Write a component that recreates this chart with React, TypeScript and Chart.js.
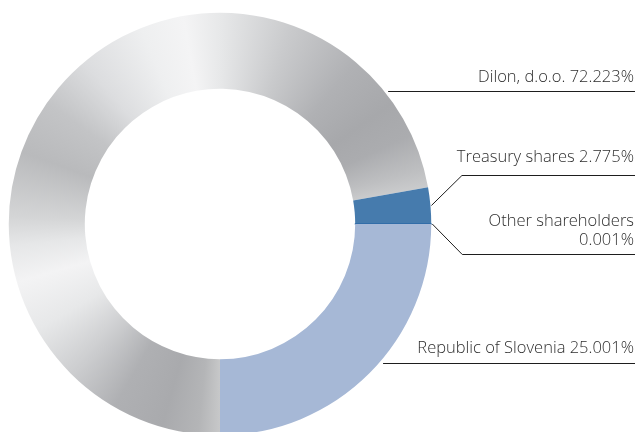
import { useEffect, useRef } from "react";
import { Chart, registerables } from "chart.js";

Chart.register(...registerables);

// ---- data ----
const categories = ["Dilon, d.o.o.", "Treasury shares", "Other shareholders", "Republic of Slovenia"];
const shares = [72.223, 2.775, 0.001, 25.001];
const labelTexts = [
  ["Dilon, d.o.o. 72.223%"],
  ["Treasury shares 2.775%"],
  ["Other shareholders", "0.001%"],
  ["Republic of Slovenia 25.001%"],
];

// ---- styles ----
const solidColors = ["#c0c1c3", "#467bad", "#2d6aa6", "#a6b8d6"];
// metallic conic gradient for Dilon: [degrees clockwise from 12 o'clock, colour]
const dilonStops: [number, string][] = [
  [0, "#e7e8e9"],
  [20, "#c9cacc"],
  [40, "#b0b1b4"],
  [55, "#a7a8ab"],
  [65, "#abacaf"],
  [75, "#bebfc1"],
  [82, "#cfd0d1"],
  [180, "#c7c8c9"],
  [186, "#b4b5b7"],
  [196, "#a9aaad"],
  [210, "#afb0b3"],
  [225, "#cdced0"],
  [240, "#e7e8e9"],
  [254, "#f3f3f4"],
  [264, "#e6e7e8"],
  [272, "#d4d5d6"],
  [290, "#b9babc"],
  [305, "#c3c4c6"],
  [320, "#dcdddf"],
  [338, "#eeeff0"],
  [350, "#f4f4f5"],
  [360, "#e7e8e9"],
];

const labelLayout = [
  { lineY: 91, mode: "h", gap: 14 },
  { lineY: 175, mode: "elbow", gap: 18 },
  { lineY: 254, mode: "elbow", gap: 14 },
  { lineY: 363, mode: "h", gap: 15 },
];

const labelPlugin = {
  id: "leaderLabels",
  afterDraw(chart: any) {
    const meta = chart.getDatasetMeta(0);
    const c: CanvasRenderingContext2D = chart.ctx;
    const lineEnd = 635;
    const textRight = 634;
    const lineHeight = 19;
    c.save();
    c.strokeStyle = "#1e1e1e";
    c.lineWidth = 1;
    c.fillStyle = "#2e2e2e";
    c.font = '300 16.5px "Open Sans"';
    c.textAlign = "right";
    c.textBaseline = "middle";
    meta.data.forEach((arc: any, i: number) => {
      const { x, y, outerRadius, startAngle, endAngle } = arc.getProps(
        ["x", "y", "outerRadius", "startAngle", "endAngle"],
        true
      );
      const L = labelLayout[i];
      const ly = L.lineY + 0.5;
      c.beginPath();
      if (L.mode === "h") {
        const dy = L.lineY - y;
        const sx = x + Math.sqrt(Math.max(0, outerRadius * outerRadius - dy * dy)) + 4;
        c.moveTo(sx, ly);
        c.lineTo(lineEnd, ly);
      } else {
        const mid = (startAngle + endAngle) / 2;
        const ax = x + Math.cos(mid) * (outerRadius + 1);
        const ay = y + Math.sin(mid) * (outerRadius + 1);
        const ex = ax + Math.abs(L.lineY - ay);
        c.moveTo(ax, ay);
        c.lineTo(ex, ly);
        c.lineTo(lineEnd, ly);
      }
      c.stroke();
      const lines = labelTexts[i];
      lines.forEach((t, j) => {
        c.fillText(t, textRight, L.lineY - L.gap - (lines.length - 1 - j) * lineHeight);
      });
    });
    c.restore();
  },
};

export default function App() {
  const ref = useRef<HTMLCanvasElement | null>(null);

  useEffect(() => {
    if (!ref.current) return;
    let cache: any = null;
    let cacheKey = "";
    const fill = (ctx: any) => {
      const i = ctx.dataIndex;
      if (i !== 0) return solidColors[i];
      const chart = ctx.chart;
      const area = chart.chartArea;
      if (!area) return solidColors[0];
      const cx = (area.left + area.right) / 2;
      const cy = (area.top + area.bottom) / 2;
      const key = cx + "," + cy;
      if (cache && cacheKey === key) return cache;
      const g = chart.ctx.createConicGradient(-Math.PI / 2, cx, cy);
      dilonStops.forEach(([deg, col]) => g.addColorStop(deg / 360, col));
      cache = g;
      cacheKey = key;
      return g;
    };
    const chart = new Chart(ref.current, {
      type: "doughnut",
      data: {
        labels: categories,
        datasets: [
          {
            data: shares,
            backgroundColor: fill as any,
            borderColor: solidColors,
            borderWidth: [0, 0, 1.5, 0],
            hoverOffset: 0,
          },
        ],
      },
      options: {
        animation: false,
        responsive: true,
        maintainAspectRatio: false,
        rotation: 180,
        cutout: "64%",
        events: [],
        layout: { padding: { left: 8, right: 207, top: 12, bottom: 4 } },
        plugins: {
          legend: { display: false },
          tooltip: { enabled: false },
        },
      },
      plugins: [labelPlugin],
    });
    return () => chart.destroy();
  }, []);

  return (
    <div style={{ position: "absolute", left: 0, top: 0, width: 639, height: 432, overflow: "hidden", background: "#ffffff" }}>
      <div style={{ position: "relative", width: 639, height: 440 }}>
        <canvas ref={ref} />
      </div>
    </div>
  );
}
